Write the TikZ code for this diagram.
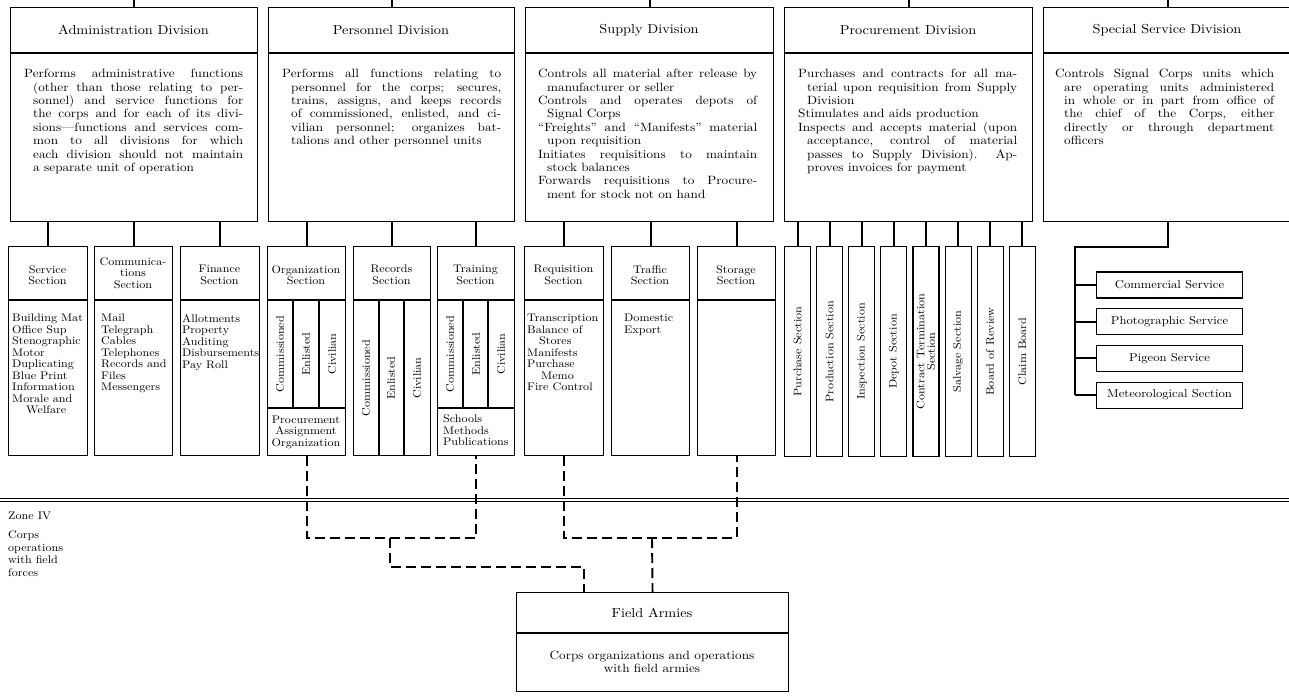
\documentclass[tikz,border=0pt]{standalone}
\usepackage{fontspec}
\setmainfont{lmroman10-regular.otf}[FakeStretch=1.1]
\usepackage{tikz}
\usetikzlibrary{calc}

\newcommand{\hangitem}{\par\hangindent=9pt\hangafter=1\relax}

\begin{document}
\begin{tikzpicture}[x=1pt,y=-1pt,
  box/.style={draw,line width=1.1pt,inner sep=0pt,anchor=north west},
  boxline/.style={line width=1.1pt},
  conn/.style={line width=1.9pt},
  dashconn/.style={line width=1.9pt,dash pattern=on 10pt off 5pt},
  divtitle/.style={font=\fontsize{13}{15}\selectfont},
  divtext/.style={anchor=north west,inner sep=0pt,text width=219pt,align=justify,font=\fontsize{12}{13.4}\selectfont},
  sectitle/.style={align=center,inner sep=0pt,font=\fontsize{11}{11.5}\selectfont},
  seclist/.style={anchor=north west,inner sep=0pt,align=left,font=\fontsize{11}{11.5}\selectfont},
  collabel/.style={rotate=90,inner sep=0pt,align=center,font=\fontsize{11}{10.5}\selectfont},
  svcbox/.style={draw,line width=1.1pt,minimum width=146pt,minimum height=26pt,inner sep=0pt,anchor=west,font=\fontsize{11.5}{13}\selectfont}]
  \fill[white](0,0) rectangle (1289,696);
  \useasboundingbox (0,0) rectangle (1289,696);
  \clip (0,0) rectangle (1289,696);

  \node[box,minimum width=247pt,minimum height=214pt] (adm) at (10,7) {};
  \node[box,minimum width=246pt,minimum height=214pt] (per) at (268,7) {};
  \node[box,minimum width=248pt,minimum height=214pt] (sup) at (525,7) {};
  \node[box,minimum width=248pt,minimum height=214pt] (pro) at (784,7) {};
  \node[box,minimum width=248pt,minimum height=214pt] (spc) at (1043,7) {};
  \foreach \d in {adm,per,sup,pro,spc}{
    \draw[boxline] (\d.west |- 0,53) -- (\d.east |- 0,53);
    \draw[conn] (\d.north) -- (\d.north |- 0,0);
  }
  \node[divtitle] (admttl) at (133.5,30) {Administration Division};
  \node[divtitle] (perttl) at (391,30) {Personnel Division};
  \node[divtitle] (supttl) at (649,30) {Supply Division};
  \node[divtitle] (prottl) at (908,30) {Procurement Division};
  \node[divtitle] (spcttl) at (1167,30) {Special Service Division};

  \node[divtext] (admtxt) at (24,64) {\hangitem Performs administrative functions\linebreak
    (other than those relating to per-\linebreak sonnel) and service functions for\linebreak
    the corps and for each of its divi-\linebreak sions—functions and services com-\linebreak
    mon to all divisions for which\linebreak each division should not maintain\linebreak
    a separate unit of operation\par};
  \node[divtext] (pertxt) at (282,64) {\hangitem Performs all functions relating to\linebreak
    personnel for the corps; secures,\linebreak trains, assigns, and keeps records\linebreak
    of commissioned, enlisted, and ci-\linebreak vilian personnel; organizes bat-\linebreak
    talions and other personnel units\par};
  \node[divtext] (suptxt) at (538,64) {\hangitem Controls all material after release by\linebreak manufacturer or seller
    \hangitem Controls and operates depots of\linebreak Signal Corps
    \hangitem “Freights” and “Manifests” material\linebreak upon requisition
    \hangitem Initiates requisitions to maintain\linebreak stock balances
    \hangitem Forwards requisitions to Procure-\linebreak ment for stock not on hand\par};
  \node[divtext] (protxt) at (798,64) {\hangitem Purchases and contracts for all ma-\linebreak
    terial upon requisition from Supply\linebreak Division
    \hangitem Stimulates and aids production
    \hangitem Inspects and accepts material (upon\linebreak acceptance, control of material\linebreak
    passes to Supply Division).\ \ Ap-\linebreak proves invoices for payment\par};
  \node[divtext] (spctxt) at (1055,64) {\hangitem Controls Signal Corps units which\linebreak
    are operating units administered\linebreak in whole or in part from office of\linebreak
    the chief of the Corps, either\linebreak directly or through department\linebreak officers\par};

  \foreach \n/\x/\w in {srv/8/79,com/94/78,fin/180/79,org/267/78,rec/353/77,trn/437/77,req/524/79,trf/611/78,sto/697/78}{
    \node[box,minimum width=\w,minimum height=209pt] (\n) at (\x,246) {};
    \draw[boxline] (\n.west |- 0,300) -- (\n.east |- 0,300);
  }
  \foreach \n in {srv,com,fin} \draw[conn] (\n.north) -- (\n.north |- adm.south);
  \foreach \n in {org,rec,trn} \draw[conn] (\n.north) -- (\n.north |- per.south);
  \foreach \n in {req,trf,sto} \draw[conn] (\n.north) -- (\n.north |- sup.south);

  \node[sectitle] (srvttl) at (47.5,275) {Service\\Section};
  \node[sectitle] (comttl) at (133,273) {Communica-\\tions\\Section};
  \node[sectitle] (finttl) at (219.5,275) {Finance\\Section};
  \node[sectitle] (orgttl) at (306,275) {Organization\\Section};
  \node[sectitle] (recttl) at (391.5,275) {Records\\Section};
  \node[sectitle] (trnttl) at (475.5,275) {Training\\Section};
  \node[sectitle] (reqttl) at (563.5,275) {Requisition\\Section};
  \node[sectitle] (trfttl) at (650,275) {Traffic\\Section};
  \node[sectitle] (stottl) at (736,275) {Storage\\Section};

  \node[seclist] (srvlst) at (12,314) {Building Mat\\Office Sup\\Stenographic\\Motor\\Duplicating\\Blue Print\\Information\\Morale and\\\hspace*{14pt}Welfare};
  \node[seclist] (comlst) at (101,314) {Mail\\Telegraph\\Cables\\Telephones\\Records and\\Files\\Messengers};
  \node[seclist] (finlst) at (182,314) {Allotments\\Property\\Auditing\\Disbursements\\Pay Roll};
  \node[seclist] (reqlst) at (527,314) {Transcription\\Balance of\\\hspace*{12pt}Stores\\Manifests\\Purchase\\\hspace*{14pt}Memo\\Fire Control};
  \node[seclist] (trflst) at (624,314) {Domestic\\Export};

  \foreach \x/\y in {293/408,319/408,379/455,404/455,463/408,488/408}
    \draw[boxline] (\x,300) -- (\x,\y);
  \draw[boxline] (267,408) -- (345,408) (437,408) -- (514,408);
  \foreach \x/\y/\t [count=\k] in {280/354/Commissioned,306/354/Enlisted,332/354/Civilian,
      366/378/Commissioned,391/378/Enlisted,417/378/Civilian,
      450/354/Commissioned,476/354/Enlisted,501/354/Civilian}
    \node[collabel] (col\k) at (\x,\y) {\t};
  \node[sectitle] (orgbot) at (306,432) {Procurement\\Assignment\\Organization};
  \node[seclist] (trnbot) at (443,415) {Schools\\Methods\\Publications};

  \foreach \i/\t in {0/Purchase Section,1/Production Section,2/Inspection Section,3/Depot Section,
      4/{Contract Termination\\Section},5/Salvage Section,6/Board of Review,7/Claim Board}{
    \node[box,minimum width=26pt,minimum height=210pt] (pc\i) at (784+32.1*\i,246) {};
    \node[collabel] (pcl\i) at (pc\i.center) {\t};
    \draw[conn] (pc\i.north) -- (pc\i.north |- pro.south);
  }

  \foreach \i/\t in {0/Commercial Service,1/Photographic Service,2/Pigeon Service,3/Meteorological Section}
    \node[svcbox] (sv\i) at (1096,285+36.7*\i) {\t};
  \coordinate (svbus) at (1075,247);
  \draw[conn] (spc.south) |- (svbus) -- (svbus |- sv3.west);
  \foreach \i in {0,...,3} \draw[conn] (svbus |- sv\i.west) -- (sv\i.west);

  \draw[line width=0.9pt] (0,498) -- (1289,498);
  \draw[line width=1.3pt] (0,501.5) -- (1289,501.5);
  \node[anchor=west,inner sep=0pt,font=\fontsize{11}{12}\selectfont] (zone) at (8,516) {Zone IV};
  \node[anchor=north west,inner sep=0pt,align=left,font=\fontsize{11}{12.5}\selectfont] (zonetxt) at (8,531) {Corps\\operations\\with field\\forces};

  \node[box,minimum width=272pt,minimum height=99pt] (fa) at (516,592) {};
  \draw[boxline] (fa.west |- 0,633) -- (fa.east |- 0,633);
  \node[divtitle] (fattl) at (652,613) {Field Armies};
  \node[align=center,inner sep=0pt,font=\fontsize{12}{13}\selectfont] (fatxt) at (652,662) {Corps organizations and operations\\with field armies};

  \coordinate (orgj) at (390,538);
  \coordinate (orgk) at (584,567);
  \coordinate (supj) at (652,538);
  \draw[dashconn] (org.south) |- (orgj) -| (trn.south);
  \draw[dashconn] (orgj) |- (orgk) -- (orgk |- fa.north);
  \draw[dashconn] (req.south) |- (supj) -| (sto.south);
  \draw[dashconn] (supj) -- (fa.north);
\end{tikzpicture}
\end{document}
